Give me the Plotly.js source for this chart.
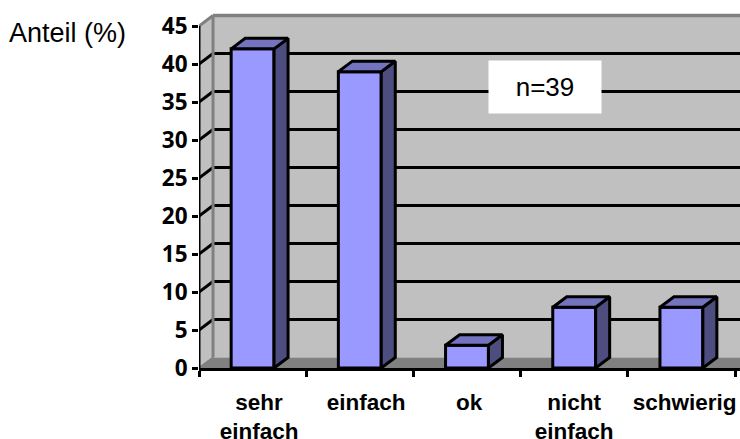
<!DOCTYPE html>
<html><head><meta charset="utf-8">
<script src="https://cdn.plot.ly/plotly-3.0.1.min.js"></script>
<style>html,body{margin:0;padding:0;background:#fff;overflow:hidden}</style>
</head><body><div id="chart" style="width:740px;height:439px"></div>
<script>
const categories = ["sehr<br>einfach","einfach","ok","nicht<br>einfach","schwierig"];
const values = [42,39,3,8,8];
const yTicks = [0,5,10,15,20,25,30,35,40,45];
const sampleNote = "n=39";
const yTitle = "Anteil (%)";

const positions = categories.map((_,i)=>i);
const labelNudge = [0.06,0.06,0.02,0,0.03];
const labelPositions = positions.map((p,i)=>p+labelNudge[i]);
const boundaries = [-0.5,0.5,1.5,2.5,3.5,4.5];
const half = 0.2, dx = 14/107, dy = 10.5/7.6;
const xMin = -0.5, xMax = 4.556, yMax = 46.85, topTick = 45;
const W = 741, H = 439, L = 199, T = 12, B = 71;
const px = x => (x-L)/(W-L), py = y => (H-B-y)/(H-B-T);

function poly(pts){return 'M'+pts.map(p=>p.join(',')).join('L')+'Z';}
const shapes = [];
const S = (path,fill)=>shapes.push({type:'path',path,xref:'x',yref:'y',layer:'below',fillcolor:fill,line:{color:'rgba(0,0,0,0)',width:0}});
const Ln = (x0,y0,x1,y1,color,width)=>shapes.push({type:'line',xref:'x',yref:'y',layer:'below',x0,y0,x1,y1,line:{color,width}});
S(poly([[xMin+dx,dy],[xMax+1,dy],[xMax+1,topTick+dy],[xMin+dx,topTick+dy]]),'#C0C0C0');
S(poly([[xMin,0],[xMin+dx,dy],[xMin+dx,topTick+dy],[xMin,topTick]]),'#C0C0C0');
S(poly([[xMin,0],[xMin+dx,dy],[xMax+1,dy],[xMax+1,0]]),'#808080');
yTicks.filter(t=>t>0&&t<topTick).forEach(t=>{
  Ln(xMin,t,xMin+dx,t+dy,'#000',3);
  Ln(xMin+dx,t+dy,xMax+1,t+dy,'#000',3);
});
Ln(xMin+dx,dy,xMin+dx,topTick+dy,'#808080',3);
Ln(xMin+dx,topTick+dy,xMax+1,topTick+dy,'#808080',3.5);
Ln(xMin,0,xMin+dx,dy,'#808080',2);
Ln(xMin,topTick,xMin+dx,topTick+dy,'#808080',3);

function faces(fn){const xs=[],ys=[];values.forEach((v,i)=>{fn(v,i).forEach(p=>{xs.push(p[0]);ys.push(p[1]);});xs.push(null);ys.push(null);});return {x:xs,y:ys};}
const side = faces((v,i)=>[[i+half,0],[i+half+dx,dy],[i+half+dx,v+dy],[i+half,v],[i+half,0]]);
const top_ = faces((v,i)=>[[i-half,v],[i-half+dx,v+dy],[i+half+dx,v+dy],[i+half,v],[i-half,v]]);

const traces = [
 {type:'bar',x:positions,y:values,width:2*half,marker:{color:'#9999FF',line:{color:'#000',width:3}},hoverinfo:'y',showlegend:false},
 {type:'scatter',mode:'lines',x:side.x,y:side.y,fill:'toself',fillcolor:'#4D4D80',line:{color:'#000',width:3},hoverinfo:'skip',showlegend:false},
 {type:'scatter',mode:'lines',x:top_.x,y:top_.y,fill:'toself',fillcolor:'#7373BF',line:{color:'#000',width:3},hoverinfo:'skip',showlegend:false},
 {type:'scatter',mode:'lines',x:[xMin,xMin],y:[0,topTick],line:{color:'#000',width:3},cliponaxis:false,hoverinfo:'skip',showlegend:false}
];

const layout = {
 width:W,height:H,margin:{l:L,r:0,t:T,b:B,pad:0},
 paper_bgcolor:'#fff',plot_bgcolor:'#fff',showlegend:false,
 font:{family:'Liberation Sans',color:'#000'},
 xaxis:{type:'linear',range:[xMin,xMax],tickmode:'array',tickvals:labelPositions,ticktext:categories,ticks:'',showgrid:false,zeroline:false,
   showline:true,linecolor:'#000',linewidth:3,ticklabelstandoff:12,
   tickfont:{family:'Liberation Sans',size:22.5,color:'#000',weight:700},
   minor:{tickmode:'array',tickvals:boundaries,ticks:'outside',ticklen:6,tickwidth:3,tickcolor:'#000',showgrid:false}},
 yaxis:{type:'linear',range:[0,yMax],tickmode:'array',tickvals:yTicks,ticktext:yTicks.map(String),ticks:'outside',ticklen:6,tickwidth:3,tickcolor:'#000',
   showgrid:false,zeroline:false,showline:false,
   tickfont:{family:'Open Sans',size:22.5,color:'#000',weight:700}},
 bargap:0,shapes:shapes,
 annotations:[
  {xref:'paper',yref:'paper',x:px(7),y:py(33),xanchor:'left',yanchor:'middle',text:yTitle,showarrow:false,font:{family:'Liberation Sans',size:27,color:'#000'}},
  {xref:'paper',yref:'paper',x:px(544.5),y:py(87),xanchor:'center',yanchor:'middle',text:sampleNote,showarrow:false,width:110,height:50,bgcolor:'#fff',font:{family:'Liberation Sans',size:26,color:'#000'}}
 ]
};
Plotly.newPlot('chart',traces,layout,{displayModeBar:false,staticPlot:true});
</script></body></html>
